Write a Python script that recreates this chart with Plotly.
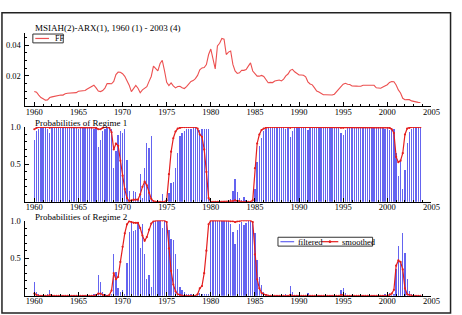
import plotly.graph_objects as go

# ---------------- data ----------------
start_year = 1960
n_obs = 176  # 1960(1) - 2003(4), quarterly
dates = [start_year + i / 4 for i in range(n_obs)]

ff = [
    0.0098, 0.0093, 0.0074, 0.0058,  # 1960
    0.0050, 0.0041, 0.0042, 0.0058,  # 1961
    0.0062, 0.0065, 0.0071, 0.0073,  # 1962
    0.0074, 0.0074, 0.0083, 0.0086,  # 1963
    0.0087, 0.0087, 0.0087, 0.0090,  # 1964
    0.0099, 0.0102, 0.0102, 0.0104,  # 1965
    0.0114, 0.0123, 0.0135, 0.0139,  # 1966
    0.0121, 0.0100, 0.0097, 0.0104,  # 1967
    0.0120, 0.0150, 0.0149, 0.0148,  # 1968
    0.0164, 0.0208, 0.0225, 0.0224,  # 1969
    0.0214, 0.0197, 0.0168, 0.0139,  # 1970
    0.0097, 0.0114, 0.0137, 0.0119,  # 1971
    0.0089, 0.0108, 0.0119, 0.0129,  # 1972
    0.0164, 0.0196, 0.0264, 0.0250,  # 1973
    0.0233, 0.0281, 0.0302, 0.0234,  # 1974
    0.0158, 0.0136, 0.0154, 0.0135,  # 1975
    0.0121, 0.0130, 0.0132, 0.0122,  # 1976
    0.0117, 0.0129, 0.0146, 0.0163,  # 1977
    0.0169, 0.0182, 0.0203, 0.0240,  # 1978
    0.0252, 0.0255, 0.0274, 0.0340,  # 1979
    0.0376, 0.0317, 0.0246, 0.0396,  # 1980
    0.0414, 0.0445, 0.0440, 0.0340,  # 1981
    0.0356, 0.0363, 0.0275, 0.0232,  # 1982
    0.0216, 0.0220, 0.0237, 0.0236,  # 1983
    0.0242, 0.0264, 0.0285, 0.0232,  # 1984
    0.0212, 0.0198, 0.0198, 0.0203,  # 1985
    0.0196, 0.0173, 0.0155, 0.0157,  # 1986
    0.0156, 0.0166, 0.0171, 0.0173,  # 1987
    0.0167, 0.0179, 0.0200, 0.0212,  # 1988
    0.0236, 0.0243, 0.0227, 0.0215,  # 1989
    0.0206, 0.0206, 0.0204, 0.0194,  # 1990
    0.0161, 0.0147, 0.0141, 0.0121,  # 1991
    0.0101, 0.0094, 0.0082, 0.0076,  # 1992
    0.0076, 0.0075, 0.0077, 0.0075,  # 1993
    0.0080, 0.0099, 0.0112, 0.0129,  # 1994
    0.0145, 0.0151, 0.0145, 0.0143,  # 1995
    0.0134, 0.0131, 0.0133, 0.0132,  # 1996
    0.0132, 0.0138, 0.0138, 0.0138,  # 1997
    0.0138, 0.0138, 0.0138, 0.0122,  # 1998
    0.0118, 0.0119, 0.0127, 0.0133,  # 1999
    0.0142, 0.0157, 0.0163, 0.0162,  # 2000
    0.0140, 0.0108, 0.0088, 0.0053,  # 2001
    0.0043, 0.0044, 0.0044, 0.0036,  # 2002
    0.0031, 0.0031, 0.0026, 0.0025,  # 2003
]

# filtered probabilities of regime 1
filtered_r1 = [
    0.82, 0.95, 0.97, 0.99,  # 1960
    0.99, 0.99, 0.98, 0.92,  # 1961
    0.99, 0.99, 0.99, 0.99,  # 1962
    0.99, 0.99, 0.99, 0.99,  # 1963
    0.99, 0.99, 0.99, 0.99,  # 1964
    0.97, 0.99, 0.99, 0.99,  # 1965
    0.99, 0.99, 0.99, 0.98,  # 1966
    0.99, 0.73, 0.82, 0.95,  # 1967
    0.98, 0.99, 0.99, 0.97,  # 1968
    0.45, 0.68, 0.90, 0.95,  # 1969
    0.92, 0.97, 0.56, 0.15,  # 1970
    0.02, 0.14, 0.13, 0.03,  # 1971
    0.37, 0.05, 0.45, 0.78,  # 1972
    0.72, 0.88, 0.01, 0.00,  # 1973
    0.00, 0.01, 0.10, 0.00,  # 1974
    0.01, 0.12, 0.25, 0.26,  # 1975
    0.45, 0.65, 0.88, 0.92,  # 1976
    0.95, 0.97, 0.98, 0.98,  # 1977
    0.99, 0.99, 0.97, 0.96,  # 1978
    0.97, 0.97, 0.98, 0.97,  # 1979
    0.00, 0.00, 0.01, 0.00,  # 1980
    0.01, 0.00, 0.01, 0.00,  # 1981
    0.01, 0.04, 0.15, 0.31,  # 1982
    0.13, 0.05, 0.02, 0.06,  # 1983
    0.03, 0.01, 0.01, 0.03,  # 1984
    0.17, 0.53, 0.75, 0.85,  # 1985
    0.95, 0.98, 0.99, 0.99,  # 1986
    0.99, 0.99, 0.99, 0.99,  # 1987
    0.99, 0.99, 0.97, 0.99,  # 1988
    0.87, 0.95, 0.99, 0.99,  # 1989
    0.99, 0.99, 0.99, 0.99,  # 1990
    0.96, 0.99, 0.99, 0.99,  # 1991
    0.99, 0.99, 0.99, 0.99,  # 1992
    0.99, 0.99, 0.99, 0.99,  # 1993
    0.99, 0.99, 0.99, 0.92,  # 1994
    0.90, 0.96, 0.99, 0.99,  # 1995
    0.99, 0.99, 0.99, 0.99,  # 1996
    0.99, 0.99, 0.99, 0.99,  # 1997
    0.99, 0.99, 0.99, 0.99,  # 1998
    0.99, 0.99, 0.99, 0.97,  # 1999
    0.99, 0.96, 0.99, 0.97,  # 2000
    0.65, 0.34, 0.54, 0.17,  # 2001
    0.43, 0.78, 0.94, 0.98,  # 2002
    0.99, 0.99, 0.99, 0.99,  # 2003
]

# smoothed probabilities of regime 1
smoothed_r1 = [
    0.97, 0.99, 1.00, 1.00,  # 1960
    1.00, 1.00, 1.00, 0.99,  # 1961
    1.00, 1.00, 1.00, 1.00,  # 1962
    1.00, 1.00, 1.00, 1.00,  # 1963
    1.00, 1.00, 1.00, 1.00,  # 1964
    1.00, 1.00, 1.00, 1.00,  # 1965
    1.00, 1.00, 1.00, 1.00,  # 1966
    0.99, 0.97, 0.97, 0.99,  # 1967
    1.00, 1.00, 0.99, 0.93,  # 1968
    0.70, 0.78, 0.75, 0.55,  # 1969
    0.35, 0.17, 0.05, 0.01,  # 1970
    0.02, 0.03, 0.03, 0.03,  # 1971
    0.10, 0.20, 0.27, 0.22,  # 1972
    0.12, 0.04, 0.01, 0.00,  # 1973
    0.00, 0.00, 0.00, 0.00,  # 1974
    0.02, 0.37, 0.67, 0.85,  # 1975
    0.94, 0.98, 0.99, 1.00,  # 1976
    1.00, 1.00, 1.00, 1.00,  # 1977
    1.00, 1.00, 0.98, 0.90,  # 1978
    0.87, 0.70, 0.40, 0.05,  # 1979
    0.00, 0.00, 0.00, 0.00,  # 1980
    0.00, 0.00, 0.00, 0.00,  # 1981
    0.00, 0.01, 0.01, 0.02,  # 1982
    0.01, 0.01, 0.00, 0.00,  # 1983
    0.00, 0.00, 0.00, 0.02,  # 1984
    0.45, 0.78, 0.90, 0.96,  # 1985
    0.98, 0.99, 1.00, 1.00,  # 1986
    1.00, 1.00, 1.00, 1.00,  # 1987
    1.00, 1.00, 1.00, 1.00,  # 1988
    0.99, 1.00, 1.00, 1.00,  # 1989
    1.00, 1.00, 1.00, 1.00,  # 1990
    1.00, 1.00, 1.00, 1.00,  # 1991
    1.00, 1.00, 1.00, 1.00,  # 1992
    1.00, 1.00, 1.00, 1.00,  # 1993
    1.00, 1.00, 1.00, 0.99,  # 1994
    0.99, 1.00, 1.00, 1.00,  # 1995
    1.00, 1.00, 1.00, 1.00,  # 1996
    1.00, 1.00, 1.00, 1.00,  # 1997
    1.00, 1.00, 1.00, 1.00,  # 1998
    1.00, 1.00, 1.00, 1.00,  # 1999
    1.00, 0.99, 0.97, 0.92,  # 2000
    0.60, 0.53, 0.55, 0.65,  # 2001
    0.90, 0.98, 0.99, 1.00,  # 2002
    1.00, 1.00, 1.00, 1.00,  # 2003
]

# regime 2 probabilities are the complements of regime 1
filtered_r2 = [round(1 - v, 3) for v in filtered_r1]
smoothed_r2 = [round(1 - v, 3) for v in smoothed_r1]

x_ticks = [1960, 1965, 1970, 1975, 1980, 1985, 1990, 1995, 2000, 2005]
title_top = "MSIAH(2)-ARX(1), 1960 (1) - 2003 (4)"
title_mid = "Probabilities of Regime 1"
title_bot = "Probabilities of Regime 2"

# ---------------- styling ----------------
W, H = 462, 315
FONT = "Liberation Serif, Times New Roman, serif"
RED = "rgb(228,30,30)"
FF_RED = "rgb(236,80,80)"
BLUE = "rgb(100,100,240)"


def px_x(x):
    return x / W


def px_y(y):
    return 1 - y / H


x_dom = [px_x(26), px_x(440)]
fig = go.Figure()

# panel 1
fig.add_trace(go.Scatter(x=dates, y=ff, mode="lines", line=dict(color=FF_RED, width=1.1),
                         xaxis="x", yaxis="y", showlegend=False))
# panel 2
fig.add_trace(go.Bar(x=dates, y=filtered_r1, width=0.15, marker=dict(color=BLUE, line=dict(width=0)),
                     xaxis="x2", yaxis="y2", showlegend=False))
fig.add_trace(go.Scatter(x=dates, y=smoothed_r1, mode="lines+markers",
                         line=dict(color=RED, width=1.2), marker=dict(size=2.2, color=RED),
                         xaxis="x2", yaxis="y2", showlegend=False))
# panel 3
fig.add_trace(go.Bar(x=dates, y=filtered_r2, width=0.15, marker=dict(color=BLUE, line=dict(width=0)),
                     xaxis="x3", yaxis="y3", showlegend=False))
fig.add_trace(go.Scatter(x=dates, y=smoothed_r2, mode="lines+markers",
                         line=dict(color=RED, width=1.2), marker=dict(size=2.2, color=RED),
                         xaxis="x3", yaxis="y3", showlegend=False))

tickfont = dict(family=FONT, size=8.5, color="black")


def xaxis(anchor):
    return dict(domain=x_dom, anchor=anchor, range=[1959, 2005], tickvals=x_ticks,
                ticktext=[str(t) for t in x_ticks], showline=True, linecolor="black", linewidth=1,
                ticks="inside", ticklen=4, tickwidth=1, tickcolor="black", showgrid=False,
                zeroline=False, tickfont=tickfont, ticklabelstandoff=-3,
                minor=dict(ticks="inside", ticklen=2, dtick=1, tick0=1960, tickcolor="black",
                           showgrid=False))


def yaxis(anchor, dom, rng, tv, tt, minor_dt):
    return dict(domain=dom, anchor=anchor, range=rng, tickvals=tv, ticktext=tt,
                showline=True, linecolor="black", linewidth=1, ticks="inside", ticklen=4,
                tickwidth=1, tickcolor="black", showgrid=False, zeroline=False,
                tickfont=tickfont, ticklabelstandoff=2,
                minor=dict(ticks="inside", ticklen=2, dtick=minor_dt, tick0=0,
                           tickcolor="black", showgrid=False))


fig.update_layout(
    width=W, height=H, margin=dict(l=0, r=0, t=0, b=0),
    paper_bgcolor="white", plot_bgcolor="white", bargap=0,
    font=dict(family=FONT, size=9, color="black"),
    xaxis=xaxis("y"), xaxis2=xaxis("y2"), xaxis3=xaxis("y3"),
    yaxis=yaxis("x", [px_y(103), px_y(28)], [0, 0.0484], [0.02, 0.04], ["0.02", "0.04"], 0.005),
    yaxis2=yaxis("x2", [px_y(200), px_y(124)], [0, 1.0], [0.5, 1.0], ["0.5", "1.0"], 0.1),
    yaxis3=yaxis("x3", [px_y(295.5), px_y(219)], [0, 1.0], [0.5, 1.0], ["0.5", "1.0"], 0.1),
)

shapes = [
    # outer frame
    dict(type="rect", xref="paper", yref="paper", x0=px_x(2), x1=px_x(459.5), y0=px_y(313), y1=px_y(8),
         line=dict(color="#222", width=1.5)),
    # legend FF
    dict(type="rect", xref="paper", yref="paper", x0=px_x(33.5), x1=px_x(64.5), y0=px_y(38.5), y1=px_y(29.5),
         line=dict(color="#333", width=1), fillcolor="white"),
    dict(type="line", xref="paper", yref="paper", x0=px_x(36), x1=px_x(50), y0=px_y(34), y1=px_y(34),
         line=dict(color=FF_RED, width=1.2)),
    # legend filtered / smoothed
    dict(type="rect", xref="paper", yref="paper", x0=px_x(283.5), x1=px_x(380), y0=px_y(245), y1=px_y(236),
         line=dict(color="#333", width=1), fillcolor="white"),
    dict(type="line", xref="paper", yref="paper", x0=px_x(286), x1=px_x(300), y0=px_y(240.5), y1=px_y(240.5),
         line=dict(color=BLUE, width=1.2)),
    dict(type="line", xref="paper", yref="paper", x0=px_x(328), x1=px_x(345), y0=px_y(240.5), y1=px_y(240.5),
         line=dict(color=RED, width=1.2)),
    dict(type="circle", xref="paper", yref="paper", x0=px_x(335.5), x1=px_x(337.5), y0=px_y(241.5),
         y1=px_y(239.5), line=dict(color=RED, width=1), fillcolor=RED),
]
fig.update_layout(shapes=shapes)

ann_font = dict(family=FONT, size=9, color="black")
annotations = [
    dict(text=title_top, x=px_x(34), y=px_y(23), xref="paper", yref="paper", xanchor="left",
         yanchor="middle", showarrow=False, font=ann_font),
    dict(text=title_mid, x=px_x(34), y=px_y(120), xref="paper", yref="paper", xanchor="left",
         yanchor="middle", showarrow=False, font=ann_font),
    dict(text=title_bot, x=px_x(34), y=px_y(215.5), xref="paper", yref="paper", xanchor="left",
         yanchor="middle", showarrow=False, font=ann_font),
    dict(text="FF", x=px_x(54), y=px_y(34), xref="paper", yref="paper", xanchor="left",
         yanchor="middle", showarrow=False, font=dict(family=FONT, size=8, color="black")),
    dict(text="filtered", x=px_x(301.5), y=px_y(240.5), xref="paper", yref="paper", xanchor="left",
         yanchor="middle", showarrow=False, font=dict(family=FONT, size=8.5, color="black")),
    dict(text="smoothed", x=px_x(347), y=px_y(240.5), xref="paper", yref="paper", xanchor="left",
         yanchor="middle", showarrow=False, font=dict(family=FONT, size=8.5, color="black")),
]
fig.update_layout(annotations=annotations)

crisp_js = (
    "document.querySelectorAll('.bars path').forEach(function(p){"
    "p.style.shapeRendering='crispEdges';});"
)
fig.write_html("out.html", config={"staticPlot": True}, post_script=crisp_js)
